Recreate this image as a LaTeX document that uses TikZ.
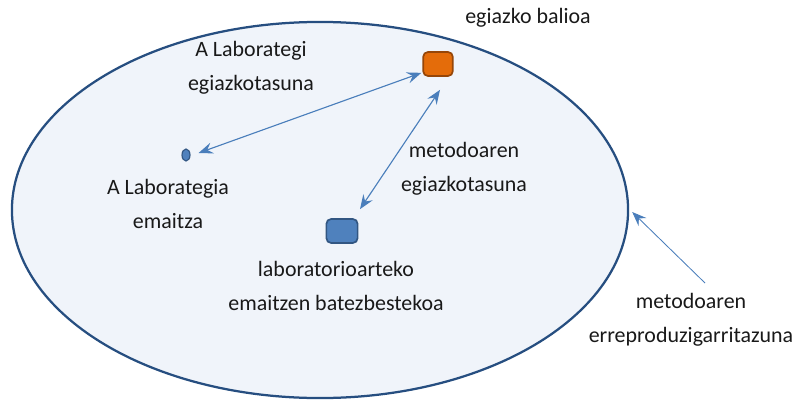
\documentclass[tikz,border=0pt]{standalone}
\usepackage{fontspec}
\setmainfont{Carlito}
\usetikzlibrary{positioning,arrows.meta,shapes.geometric,calc}
\definecolor{popfill}{RGB}{240,244,250}
\definecolor{popline}{RGB}{38,78,128}
\definecolor{truefill}{RGB}{228,108,10}
\definecolor{trueline}{RGB}{150,70,8}
\definecolor{meanfill}{RGB}{79,129,189}
\definecolor{meanline}{RGB}{50,86,130}
\definecolor{linkcol}{RGB}{74,126,187}
\tikzset{
  linkarrow/.style={{Stealth[length=3.6mm,width=2.8mm,inset=1.3mm]}-{Stealth[length=3.6mm,width=2.8mm,inset=1.3mm]}, linkcol, line width=0.8pt},
  onearrow/.style={-{Stealth[length=3.6mm,width=2.8mm,inset=1.3mm]}, linkcol, line width=0.6pt},
  truebox/.style={draw=trueline, fill=truefill, rounded corners=1.2mm, line width=1.2pt, minimum width=0.74cm, minimum height=0.6cm, inner sep=0pt},
  meanbox/.style={draw=meanline, fill=meanfill, rounded corners=1.2mm, line width=1.2pt, minimum width=0.78cm, minimum height=0.6cm, inner sep=0pt},
  lab/.style={align=center, text=black!90, font=\fontsize{15.6}{24.5}\selectfont}
}

\begin{document}
\begin{tikzpicture}[x=0.025cm, y=-0.025cm]
      \useasboundingbox (0,0) rectangle (798,401);
      % population
      \node[ellipse, draw=popline, fill=popfill, line width=1.6pt, minimum width=15.4cm, minimum height=9.4cm, inner sep=0pt] (pop) at (320,210) {};
      % results
      \node[truebox] (tru) at (438,64) {};
      \node[meanbox] (mean) at (342,231) {};
      \node[ellipse, draw=meanline, fill=meanfill, line width=0.8pt, minimum width=0.2cm, minimum height=0.3cm, inner sep=0pt] (lab) at (186,155) {};
      % labels
      \node[lab] at (528,18) {egiazko balioa};
      \node[lab] at (251,68) {A Laborategi\\egiazkotasuna};
      \node[lab] at (168,204) {A Laborategia\\emaitza};
      \node[lab] at (464,169) {metodoaren\\egiazkotasuna};
      \node[lab] at (336,286) {laboratorioarteko\\emaitzen batezbestekoa};
      \node[lab] at (691,320) {metodoaren\\erreproduzigarritazuna};
      % arrows
      \draw[linkarrow] ($(tru.south west)+(-1,-4)$) -- ($(lab.east)+(8,-2)$);
      \draw[linkarrow] ($(tru.south)+(2,13)$) -- ($(mean.north)+(18,-9)$);
      \coordinate (rep) at (705,283);
      \draw[onearrow] (rep) -- ($(pop.east)+(3,2)$);
    \end{tikzpicture}
\end{document}
